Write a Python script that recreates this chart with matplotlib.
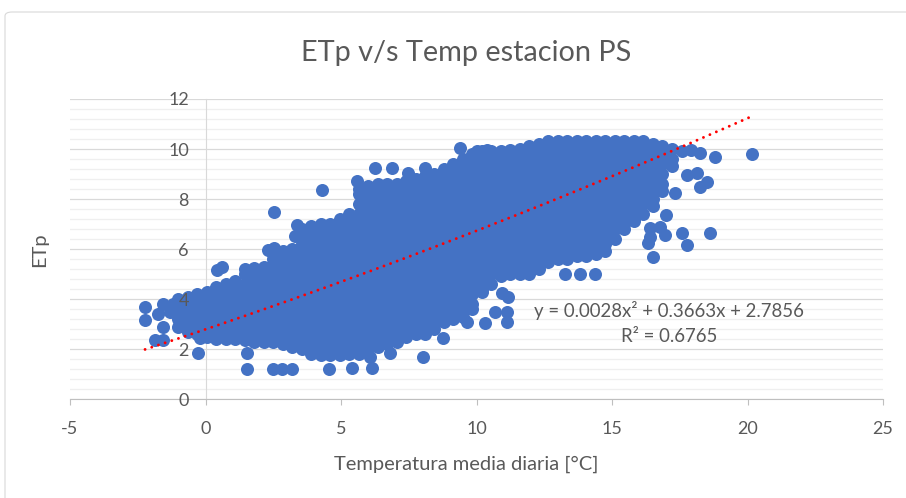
import matplotlib.pyplot as plt
from matplotlib.patches import FancyBboxPatch
from matplotlib.ticker import MultipleLocator
import numpy as np

plt.rcParams['font.family'] = ['Lato', 'DejaVu Sans']
plt.rcParams['axes.unicode_minus'] = False

# daily mean temperature [°C] of each column of readings and the ETp readings in it
col_temp = [-1.0, -0.65, -0.3, 0.05, 0.4, 0.75, 1.1, 1.45, 1.8, 2.15,
            2.5, 2.85, 3.2, 3.55, 3.9, 4.25, 4.6, 4.95, 5.3, 5.65,
            6.0, 6.35, 6.7, 7.05, 7.4, 7.75, 8.1, 8.45, 8.8, 9.15,
            9.5, 9.85, 10.2, 10.55, 10.9, 11.25, 11.6, 11.95, 12.3, 12.65,
            13.0, 13.35, 13.7, 14.05, 14.4, 14.75, 15.1, 15.45, 15.8, 16.15,
            16.5, 16.85, 17.2]
col_etp = [
    [2.9, 3.2, 3.6, 4.0],
    [2.7, 3.0, 3.4, 3.8, 4.1],
    [2.6, 2.8, 3.2, 3.6, 4.0, 4.2],
    [2.5, 2.6, 3.0, 3.4, 3.8, 4.2, 4.3],
    [2.4, 2.8, 3.2, 3.6, 4.0, 4.4, 4.5],
    [2.4, 2.6, 3.0, 3.4, 3.8, 4.2, 4.6],
    [2.4, 2.8, 3.2, 3.6, 4.0, 4.4, 4.7],
    [2.35, 2.6, 3.0, 3.4, 3.8, 4.2, 4.6, 5.0, 5.2],
    [2.3, 2.4, 2.8, 3.2, 3.6, 4.0, 4.4, 4.8, 5.2, 5.25],
    [2.3, 2.6, 3.0, 3.4, 3.8, 4.2, 4.6, 5.0, 5.3],
    [2.3, 2.4, 2.8, 3.2, 3.6, 4.0, 4.4, 4.8, 5.2, 5.6, 5.8],
    [2.2, 2.6, 3.0, 3.4, 3.8, 4.2, 4.6, 5.0, 5.4, 5.8, 5.9],
    [2.1, 2.4, 2.8, 3.2, 3.6, 4.0, 4.4, 4.8, 5.2, 5.6, 6.0],
    [2.0, 2.2, 2.6, 3.0, 3.4, 3.8, 4.2, 4.6, 5.0, 5.4, 5.8, 6.2, 6.6, 6.8],
    [1.8, 2.0, 2.4, 2.8, 3.2, 3.6, 4.0, 4.4, 4.8, 5.2, 5.6, 6.0, 6.4, 6.8, 6.9],
    [1.75, 1.8, 2.2, 2.6, 3.0, 3.4, 3.8, 4.2, 4.6, 5.0, 5.4, 5.8, 6.2, 6.6, 7.0],
    [1.75, 2.0, 2.4, 2.8, 3.2, 3.6, 4.0, 4.4, 4.8, 5.2, 5.6, 6.0, 6.4, 6.8, 7.0],
    [1.75, 1.8, 2.2, 2.6, 3.0, 3.4, 3.8, 4.2, 4.6, 5.0, 5.4, 5.8, 6.2, 6.6, 7.0, 7.2],
    [1.8, 2.0, 2.4, 2.8, 3.2, 3.6, 4.0, 4.4, 4.8, 5.2, 5.6, 6.0, 6.4, 6.8, 7.2, 7.4],
    [1.8, 2.2, 2.6, 3.0, 3.4, 3.8, 4.2, 4.6, 5.0, 5.4, 5.8, 6.2, 6.6, 7.0, 7.4, 7.8, 8.2, 8.4],
    [2.0, 2.4, 2.8, 3.2, 3.6, 4.0, 4.4, 4.8, 5.2, 5.6, 6.0, 6.4, 6.8, 7.2, 7.6, 8.0, 8.4, 8.5],
    [2.1, 2.2, 2.6, 3.0, 3.4, 3.8, 4.2, 4.6, 5.0, 5.4, 5.8, 6.2, 6.6, 7.0, 7.4, 7.8, 8.2, 8.6],
    [2.2, 2.4, 2.8, 3.2, 3.6, 4.0, 4.4, 4.8, 5.2, 5.6, 6.0, 6.4, 6.8, 7.2, 7.6, 8.0, 8.4, 8.6],
    [2.3, 2.6, 3.0, 3.4, 3.8, 4.2, 4.6, 5.0, 5.4, 5.8, 6.2, 6.6, 7.0, 7.4, 7.8, 8.2, 8.6],
    [2.5, 2.8, 3.2, 3.6, 4.0, 4.4, 4.8, 5.2, 5.6, 6.0, 6.4, 6.8, 7.2, 7.6, 8.0, 8.4, 8.7],
    [2.6, 3.0, 3.4, 3.8, 4.2, 4.6, 5.0, 5.4, 5.8, 6.2, 6.6, 7.0, 7.4, 7.8, 8.2, 8.6, 8.8],
    [2.6, 2.8, 3.2, 3.6, 4.0, 4.4, 4.8, 5.2, 5.6, 6.0, 6.4, 6.8, 7.2, 7.6, 8.0, 8.4, 8.8, 8.9],
    [2.8, 3.0, 3.4, 3.8, 4.2, 4.6, 5.0, 5.4, 5.8, 6.2, 6.6, 7.0, 7.4, 7.8, 8.2, 8.6, 9.0],
    [3.1, 3.2, 3.6, 4.0, 4.4, 4.8, 5.2, 5.6, 6.0, 6.4, 6.8, 7.2, 7.6, 8.0, 8.4, 8.8, 9.2],
    [3.2, 3.4, 3.8, 4.2, 4.6, 5.0, 5.4, 5.8, 6.2, 6.6, 7.0, 7.4, 7.8, 8.2, 8.6, 9.0, 9.4],
    [3.3, 3.6, 4.0, 4.4, 4.8, 5.2, 5.6, 6.0, 6.4, 6.8, 7.2, 7.6, 8.0, 8.4, 8.8, 9.2, 9.6],
    [3.6, 3.8, 4.2, 4.6, 5.0, 5.4, 5.8, 6.2, 6.6, 7.0, 7.4, 7.8, 8.2, 8.6, 9.0, 9.4, 9.8],
    [4.3, 4.4, 4.8, 5.2, 5.6, 6.0, 6.4, 6.8, 7.2, 7.6, 8.0, 8.4, 8.8, 9.2, 9.6, 9.9],
    [4.6, 5.0, 5.4, 5.8, 6.2, 6.6, 7.0, 7.4, 7.8, 8.2, 8.6, 9.0, 9.4, 9.8, 9.9],
    [4.9, 5.2, 5.6, 6.0, 6.4, 6.8, 7.2, 7.6, 8.0, 8.4, 8.8, 9.2, 9.6, 9.9],
    [5.0, 5.4, 5.8, 6.2, 6.6, 7.0, 7.4, 7.8, 8.2, 8.6, 9.0, 9.4, 9.8, 9.95],
    [5.0, 5.2, 5.6, 6.0, 6.4, 6.8, 7.2, 7.6, 8.0, 8.4, 8.8, 9.2, 9.6, 10.0],
    [5.0, 5.4, 5.8, 6.2, 6.6, 7.0, 7.4, 7.8, 8.2, 8.6, 9.0, 9.4, 9.8, 10.1],
    [5.2, 5.6, 6.0, 6.4, 6.8, 7.2, 7.6, 8.0, 8.4, 8.8, 9.2, 9.6, 10.0, 10.2],
    [5.5, 5.8, 6.2, 6.6, 7.0, 7.4, 7.8, 8.2, 8.6, 9.0, 9.4, 9.8, 10.2, 10.3],
    [5.6, 6.0, 6.4, 6.8, 7.2, 7.6, 8.0, 8.4, 8.8, 9.2, 9.6, 10.0, 10.3],
    [5.6, 5.8, 6.2, 6.6, 7.0, 7.4, 7.8, 8.2, 8.6, 9.0, 9.4, 9.8, 10.2, 10.3],
    [5.7, 6.0, 6.4, 6.8, 7.2, 7.6, 8.0, 8.4, 8.8, 9.2, 9.6, 10.0, 10.3],
    [5.7, 5.8, 6.2, 6.6, 7.0, 7.4, 7.8, 8.2, 8.6, 9.0, 9.4, 9.8, 10.2, 10.3],
    [5.8, 6.0, 6.4, 6.8, 7.2, 7.6, 8.0, 8.4, 8.8, 9.2, 9.6, 10.0, 10.3],
    [5.9, 6.2, 6.6, 7.0, 7.4, 7.8, 8.2, 8.6, 9.0, 9.4, 9.8, 10.2, 10.3],
    [6.4, 6.8, 7.2, 7.6, 8.0, 8.4, 8.8, 9.2, 9.6, 10.0, 10.3],
    [6.8, 7.0, 7.4, 7.8, 8.2, 8.6, 9.0, 9.4, 9.8, 10.2, 10.3],
    [7.1, 7.2, 7.6, 8.0, 8.4, 8.8, 9.2, 9.6, 10.0, 10.3],
    [7.4, 7.8, 8.2, 8.6, 9.0, 9.4, 9.8, 10.2, 10.3],
    [7.7, 8.0, 8.4, 8.8, 9.2, 9.6, 10.0, 10.2],
    [8.3, 8.6, 9.0, 9.4, 9.8, 10.1],
    [9.3, 9.6, 10.0],
]

# isolated days away from the main cloud
out_temp = [-2.23, -2.23, -1.86, -1.57, -1.57, -1.75, -1.57, -1.3, -1.2, -0.28,
            -0.2, 0.41, 0.6, 1.52, 1.52, 2.32, 2.53, 2.53, 2.5, 2.81,
            3.18, 3.3, 3.37, 4.29, 4.57, 5.39, 6.13, 6.07, 6.81, 8.04,
            8.78, 5.6, 5.75, 5.8, 6.25, 6.87, 7.48, 8.1, 9.39, 10.0,
            10.38, 9.64, 10.3, 10.68, 11.11, 11.11, 10.93, 11.17, 13.27, 13.82,
            14.37, 16.52, 16.34, 16.4, 16.4, 16.77, 16.96, 17.57, 17.76, 18.6,
            17.0, 17.32, 17.76, 18.13, 18.25, 18.5, 18.25, 18.8, 20.15, 17.6,
            17.9]
out_etp = [3.7, 3.16, 2.36, 2.36, 3.8, 3.4, 2.9, 3.5, 3.8, 1.84,
           2.44, 5.16, 5.27, 1.83, 1.2, 5.96, 6.05, 7.49, 1.2, 1.2,
           1.2, 6.5, 6.96, 8.36, 1.2, 1.23, 1.23, 1.69, 1.83, 1.69,
           2.43, 8.7, 8.3, 7.85, 9.23, 9.23, 9.03, 9.23, 10.03, 9.9,
           9.96, 3.09, 3.03, 3.49, 3.49, 3.09, 4.23, 4.09, 5.0, 5.0,
           5.0, 5.67, 6.23, 6.49, 6.83, 6.89, 6.56, 6.63, 6.16, 6.63,
           7.36, 8.23, 8.96, 9.03, 8.49, 8.69, 9.83, 9.69, 9.8, 9.9,
           9.95]

# polynomial trend line reported on the chart
trend_coef = [0.0028, 0.3663, 2.7856]
r_squared = 0.6765

temp = [t for t, ys in zip(col_temp, col_etp) for _ in ys] + out_temp
etp = [y for ys in col_etp for y in ys] + out_etp

text_grey = '#595959'

fig = plt.figure(figsize=(9.06, 4.98), dpi=100)
# chart frame, its right and bottom edges fall outside the saved image
fig.patches.append(FancyBboxPatch((5 / 906, -20 / 498), 930 / 906, 506 / 498,
                                  boxstyle='round,pad=0,rounding_size=0.008',
                                  transform=fig.transFigure, fill=False,
                                  edgecolor='#D9D9D9', linewidth=0.8))
ax = fig.add_axes([70 / 906, 99 / 498, 813 / 906, 300 / 498])
ax.set_axisbelow(False)

ax.scatter(temp, etp, s=88, color='#4472C4', linewidths=0, zorder=2)

xs = np.linspace(min(temp), max(temp), 200)
ax.plot(xs, np.polyval(trend_coef, xs), color='#FF0000', lw=2.1,
        linestyle=(0, (0.01, 2.4)), dash_capstyle='round', zorder=3)

ax.set_xlim(-5, 25)
ax.set_ylim(0, 12)
ax.xaxis.set_major_locator(MultipleLocator(5))
ax.yaxis.set_major_locator(MultipleLocator(2))
ax.yaxis.set_minor_locator(MultipleLocator(0.4))

# gridlines drawn under the points, tick labels stay on top of them
for y in ax.get_yticks(minor=True):
    ax.axhline(y, color='#EFEFEF', lw=0.9, zorder=0)
for y in ax.get_yticks()[1:]:
    ax.axhline(y, color='#D9D9D9', lw=0.9, zorder=0.5)

for side in ['top', 'right']:
    ax.spines[side].set_visible(False)
ax.spines['left'].set_position(('data', 0))
ax.spines['left'].set_color('#D9D9D9')
ax.spines['left'].set_zorder(1)
ax.spines['bottom'].set_color('#BFBFBF')
ax.spines['bottom'].set_zorder(1)
ax.tick_params(axis='x', length=4, color='#BFBFBF', pad=12,
               labelsize=13, labelcolor=text_grey)
ax.tick_params(axis='y', which='both', length=0, pad=12,
               labelsize=13, labelcolor=text_grey)
ax.set_ylim(0, 12)

ax.text(17.1, 3.52, 'y = {:.4f}x² + {:.4f}x + {:.4f}'.format(*trend_coef),
        ha='center', va='center', fontsize=13.4, color=text_grey, zorder=4)
ax.text(17.1, 2.5, 'R² = {:.4f}'.format(r_squared),
        ha='center', va='center', fontsize=13.4, color=text_grey, zorder=4)

fig.text(466 / 906, 1 - 53 / 498, 'ETp v/s Temp estacion PS', ha='center',
         va='center', fontsize=20.8, color=text_grey)
fig.text(466 / 906, 1 - 464 / 498, 'Temperatura media diaria [°C]', ha='center',
         va='center', fontsize=14.5, color=text_grey)
fig.text(40 / 906, 1 - 250 / 498, 'ETp', ha='center', va='center',
         rotation=90, fontsize=14.5, color=text_grey)

fig.savefig('out.png', dpi=100)
